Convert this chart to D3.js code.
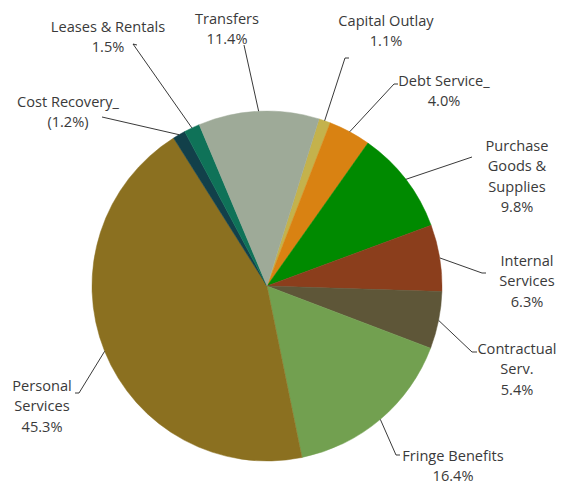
<!DOCTYPE html>
<html>
<head>
<meta charset="utf-8">
<script src="https://cdn.jsdelivr.net/npm/d3@7"></script>
<style>
  body { margin: 0; background: #fff; }
  text { font-family: "Open Sans", sans-serif; font-size: 14.6px; fill: #3a3a3a; }
</style>
</head>
<body>
<svg id="chart" width="565" height="485"></svg>
<script>
// data, clockwise starting from Capital Outlay
var categories = ["Capital Outlay", "Debt Service_", "Purchase Goods & Supplies", "Internal Services",
  "Contractual Serv.", "Fringe Benefits", "Personal Services", "Cost Recovery_", "Leases & Rentals", "Transfers"];
var values = [1.1, 4.0, 9.8, 6.3, 5.4, 16.4, 45.3, -1.2, 1.5, 11.4];
var valueLabels = ["1.1%", "4.0%", "9.8%", "6.3%", "5.4%", "16.4%", "45.3%", "(1.2%)", "1.5%", "11.4%"];
var colors = ["#c4b24c", "#d98212", "#008a00", "#8b3e1c", "#5e5638", "#72a050", "#8b7020", "#12404a", "#0f7258", "#9eaa98"];

// label layout: text lines, text centre x, first baseline y, leader start point
var labelLines = [
  ["Capital Outlay", "1.1%"],
  ["Debt Service_", "4.0%"],
  ["Purchase", "Goods &", "Supplies", "9.8%"],
  ["Internal", "Services", "6.3%"],
  ["Contractual", "Serv.", "5.4%"],
  ["Fringe Benefits", "16.4%"],
  ["Personal", "Services", "45.3%"],
  ["Cost Recovery_", "(1.2%)"],
  ["Leases & Rentals", "1.5%"],
  ["Transfers", "11.4%"]
];
var labelPos = [[386, 26], [444, 86], [517, 151], [527, 266], [517, 354], [453, 461], [42, 391], [68, 107], [108, 32], [227, 24]];
var leaderStart = [[[349, 58], [345, 58]], [[398, 84], [394, 84]], [[472, 157]], [[486, 273], [482, 273]],
  [[477, 352], [472, 352]], [[400, 455], [396, 455]], [[75, 393], [79, 393]], [[102, 117]], [[137, 45], [133, 44]], [[244, 45]]];

var svg = d3.select("#chart");
var cx = 267, cy = 286, radius = 175;
var start = 17.3 * Math.PI / 180;

var pie = d3.pie()
  .sort(null)
  .value(function(d) { return Math.abs(d); })
  .startAngle(start)
  .endAngle(start + 2 * Math.PI);

var arc = d3.arc().innerRadius(0).outerRadius(radius);

var g = svg.append("g").attr("transform", "translate(" + cx + "," + cy + ")");

var arcs = pie(values);

g.selectAll("path.slice")
  .data(arcs)
  .enter().append("path")
    .attr("class", "slice")
    .attr("d", arc)
    .style("fill", function(d, i) { return colors[i]; })
    .style("stroke", function(d, i) { return colors[i]; })
    .style("stroke-width", 0.5);

// leader lines from the label to the slice edge
arcs.forEach(function(d, i) {
  var mid = (d.startAngle + d.endAngle) / 2;
  var ex = cx + Math.sin(mid) * radius, ey = cy - Math.cos(mid) * radius;
  var pts = leaderStart[i].concat([[ex, ey]]);
  svg.append("path")
    .attr("d", d3.line()(pts))
    .style("fill", "none")
    .style("stroke", "#222")
    .style("stroke-width", 0.9);
});

labelLines.forEach(function(lines, i) {
  var t = svg.append("text")
    .attr("text-anchor", "middle")
    .attr("x", labelPos[i][0])
    .attr("y", labelPos[i][1]);
  lines.forEach(function(s, j) {
    t.append("tspan")
      .attr("x", labelPos[i][0])
      .attr("dy", j == 0 ? 0 : 20.4)
      .text(s);
  });
});
</script>
</body>
</html>
